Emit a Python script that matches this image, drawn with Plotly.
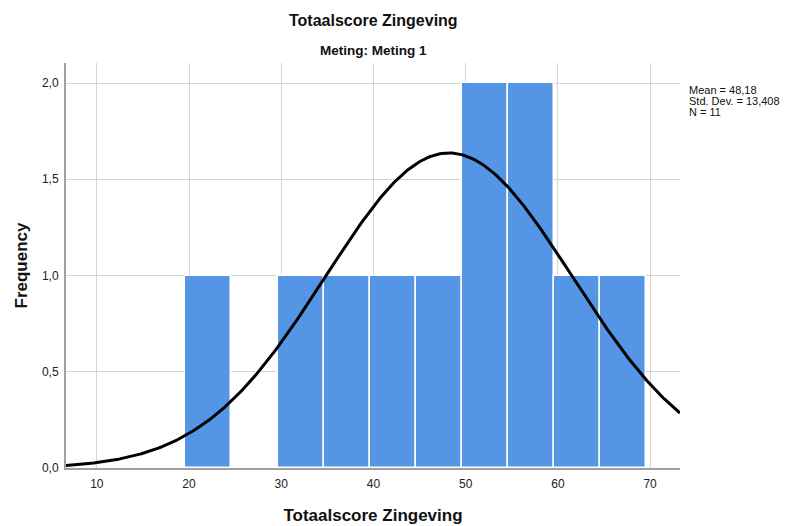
import numpy as np
import plotly.graph_objects as go

# Data
bin_left = [19.6, 24.6, 29.6, 34.6, 39.6, 44.6, 49.6, 54.6, 59.6, 64.6]
counts = [1, 0, 1, 1, 1, 1, 2, 2, 1, 1]
bin_width = 5
mean = 48.18
sd = 13.408
n = 11
stats_lines = ["Mean = 48,18", "Std. Dev. = 13,408", "N = 11"]
x_ticks = [10, 20, 30, 40, 50, 60, 70]
y_ticks = [0.0, 0.5, 1.0, 1.5, 2.0]

x_range = [6.66, 73.24]
y_range = [0, 2.104]

centers = [b + bin_width / 2 for b in bin_left]

xs = np.linspace(x_range[0], x_range[1], 400)
ys = n * bin_width * np.exp(-0.5 * ((xs - mean) / sd) ** 2) / (sd * np.sqrt(2 * np.pi))

fig = go.Figure()
fig.add_trace(go.Bar(
    x=centers, y=counts, width=bin_width,
    marker=dict(color="#5595E6", line=dict(color="white", width=1.5)),
    hoverinfo="skip", showlegend=False,
))
fig.add_trace(go.Scatter(
    x=xs, y=ys, mode="lines", line=dict(color="black", width=3),
    hoverinfo="skip", showlegend=False,
))

font = "Liberation Sans, Arial, sans-serif"
# page body has an 8px offset; margins compensate
L, T, R, B = 55, 55, 116, 60
plot_h = 526 - T - B

def ypx(py):
    # page pixel y -> paper coordinate
    fy = py - 8
    return 1 - (fy - T) / plot_h

annotations = [
    dict(text="<b>Totaalscore Zingeving</b>", x=0.5, y=ypx(20), xref="paper", yref="paper",
         yanchor="middle", showarrow=False, font=dict(size=16, color="#111111", family=font)),
    dict(text="<b>Meting: Meting 1</b>", x=0.5, y=ypx(50), xref="paper", yref="paper",
         yanchor="middle", showarrow=False, font=dict(size=13.5, color="#111111", family=font)),
]
for i, line in enumerate(stats_lines):
    annotations.append(dict(
        text=line, x=1.011, y=ypx(90 + 11.5 * i), xref="paper", yref="paper",
        xanchor="left", yanchor="middle", align="left", showarrow=False,
        font=dict(size=11, color="#111111", family=font)))

fig.update_layout(
    width=788, height=526,
    margin=dict(l=L, r=R, t=T, b=B),
    paper_bgcolor="white", plot_bgcolor="white",
    separators=",.",
    font=dict(family=font, color="#222222", size=12),
    bargap=0,
    xaxis=dict(
        range=x_range, tickvals=x_ticks, showgrid=True, gridcolor="#D4D4D4", gridwidth=1,
        showline=True, linecolor="#A0A0A0", linewidth=2, zeroline=False,
        ticks="", ticklabelstandoff=4, tickfont=dict(size=12, color="#222222"),
        title=dict(text="<b>Totaalscore Zingeving</b>", font=dict(size=17, color="#111111"), standoff=19),
    ),
    yaxis=dict(
        range=y_range, tickvals=y_ticks, tickformat=".1f", showgrid=True, gridcolor="#D4D4D4",
        gridwidth=1, showline=True, linecolor="#A0A0A0", linewidth=2, zeroline=False,
        ticks="", ticklabelstandoff=3, tickfont=dict(size=12, color="#222222"),
        title=dict(text="<b>Frequency</b>", font=dict(size=17, color="#111111"), standoff=10),
    ),
    annotations=annotations,
)

fig.write_html("out.html")
